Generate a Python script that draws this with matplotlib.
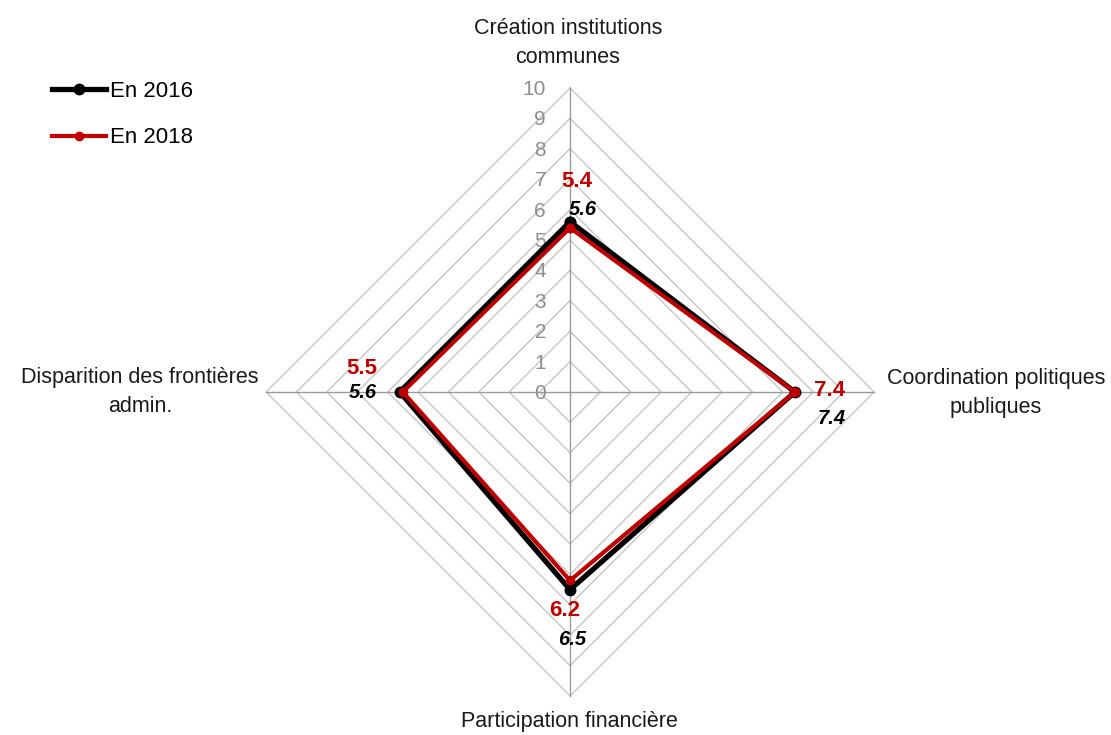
import matplotlib
matplotlib.use("Agg")
import matplotlib.pyplot as plt
import numpy as np

plt.rcParams['font.family'] = ['Liberation Sans', 'DejaVu Sans']

categories = ["Création institutions\ncommunes", "Coordination politiques\npubliques",
              "Participation financière", "Disparition des frontières\nadmin."]
values_2016 = [5.6, 7.4, 6.5, 5.6]
values_2018 = [5.4, 7.4, 6.2, 5.5]
series_names = ["En 2016", "En 2018"]
tick_values = list(range(0, 11))

W, H, DPI = 1111, 735, 100
CX, CY, PX = 570, 392, 30.4  # center pixel, px per unit

fig = plt.figure(figsize=(W / DPI, H / DPI), dpi=DPI)
ax = fig.add_axes([0, 0, 1, 1])
ax.set_xlim(-CX / PX, (W - CX) / PX)
ax.set_ylim(-(H - CY) / PX, CY / PX)
ax.axis('off')

angles = np.deg2rad([90, 0, -90, 180])
cosA, sinA = np.cos(angles), np.sin(angles)

def xy(vals):
    v = np.asarray(vals, float)
    x = v * cosA
    y = v * sinA
    return np.append(x, x[0]), np.append(y, y[0])

# grid diamonds
for t in tick_values[1:]:
    gx, gy = xy([t] * 4)
    ax.plot(gx, gy, color='#c6c6c6', lw=1.0, zorder=1)
# spokes
rmax = tick_values[-1]
for c, s in zip(cosA, sinA):
    ax.plot([0, rmax * c], [0, rmax * s], color='#9a9a9a', lw=1.0, zorder=1)

# tick labels along the top spoke
for t in tick_values:
    ax.text(-24 / PX, t - 0.05, str(t), ha='right', va='center', fontsize=15,
            color='#8e8e8e', zorder=2)

# series
x16, y16 = xy(values_2016)
x18, y18 = xy(values_2018)
l16, = ax.plot(x16, y16, color='black', lw=3.8, marker='o', ms=7.5, zorder=3,
               label=series_names[0])
l18, = ax.plot(x18, y18, color='#c00000', lw=3.0, marker='o', ms=6, zorder=4,
               label=series_names[1])

# category labels (pixel positions)
cat_pos = [(568, 43), (996, 393), (569, 722), (140, 392)]
for lab, (px, py) in zip(categories, cat_pos):
    ax.text((px - CX) / PX, (CY - py) / PX, lab, ha='center', va='center',
            fontsize=15.5, color='#1a1a1a', linespacing=1.45)

# data labels
off16 = [(13, 12), (37, -26), (2, -50), (-37, 0)]
off18 = [(7, 46), (35, 2), (-5, -30), (-41, 24)]
for i in range(4):
    ax.annotate(f"{values_2016[i]:.1f}", (values_2016[i] * cosA[i], values_2016[i] * sinA[i]),
                xytext=off16[i], textcoords='offset pixels', ha='center', va='center',
                fontsize=14.5, fontweight='bold', fontstyle='italic', color='black', zorder=5)
    ax.annotate(f"{values_2018[i]:.1f}", (values_2018[i] * cosA[i], values_2018[i] * sinA[i]),
                xytext=off18[i], textcoords='offset pixels', ha='center', va='center',
                fontsize=16, fontweight='bold', color='#c00000', zorder=5)

leg = ax.legend(handles=[l16, l18], loc='upper left', bbox_to_anchor=(0.047, 0.89),
                frameon=False, fontsize=16, handlelength=2.4, handletextpad=0.2,
                labelspacing=1.15, borderaxespad=0, borderpad=0)

fig.savefig("out.png", dpi=DPI)
